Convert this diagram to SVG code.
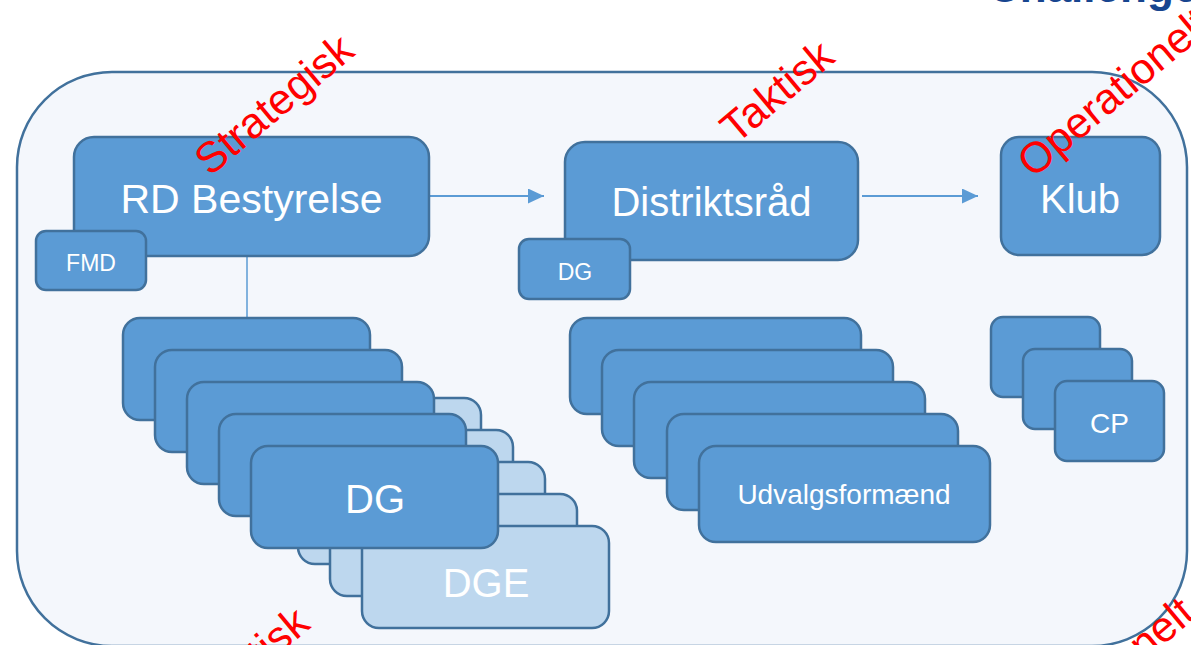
<svg xmlns="http://www.w3.org/2000/svg" width="1191" height="645" viewBox="0 0 1191 645">
<defs>
<style>
.bg{fill:#ffffff}
.frame{fill:#F4F7FC;stroke:#41719C;stroke-width:2.5}
.box{fill:#5B9BD5;stroke:#41719C;stroke-width:2.5}
.lbox{fill:#BDD7EE;stroke:#41719C;stroke-width:2.5}
.t{font-family:"Liberation Sans",Arial,sans-serif;fill:#ffffff;text-anchor:middle}
.red{font-family:"Liberation Sans",Arial,sans-serif;fill:#FF0000;font-size:43px}
.conn{stroke:#5B9BD5;stroke-width:2;fill:none}
.logo{font-family:"Liberation Sans",Arial,sans-serif;font-weight:bold;fill:#17458F;font-size:44px}
</style>
<marker id="arr" markerUnits="userSpaceOnUse" markerWidth="16" markerHeight="15" viewBox="0 0 16 15" refX="16" refY="7.5" orient="auto">
<path d="M0,0 L16,7.5 L0,15 z" fill="#5B9BD5"/>
</marker>
</defs>
<rect class="bg" x="0" y="0" width="1191" height="645"/>
<text class="logo" x="988" y="2">Challenge</text>
<rect class="frame" x="17" y="72" width="1170" height="574" rx="95" ry="95"/>

<g id="connectors">
<line class="conn" x1="429" y1="196" x2="544" y2="196" marker-end="url(#arr)"/>
<line class="conn" x1="862" y1="196" x2="978" y2="196" marker-end="url(#arr)"/>
<line class="conn" x1="247" y1="256" x2="247" y2="318" style="stroke-width:1.5"/>
</g>

<g id="node-rd">
<rect class="box" x="74" y="137" width="355" height="119" rx="20"/>
<text class="t" x="251.5" y="213" font-size="41">RD Bestyrelse</text>
</g>
<g id="node-fmd">
<rect class="box" x="36" y="231" width="110" height="59" rx="10"/>
<text class="t" x="91" y="271" font-size="23">FMD</text>
</g>
<g id="node-distriktsraad">
<rect class="box" x="565" y="142" width="293" height="118" rx="20"/>
<text class="t" x="711.5" y="216" font-size="40">Distriktsråd</text>
</g>
<g id="node-dg-small">
<rect class="box" x="519" y="239" width="111" height="60" rx="10"/>
<text class="t" x="575" y="280" font-size="23">DG</text>
</g>
<g id="node-klub">
<rect class="box" x="1001" y="137" width="159" height="118" rx="18"/>
<text class="t" x="1080" y="213" font-size="40">Klub</text>
</g>

<g id="node-dge-stack">
<rect class="lbox" x="234" y="398" width="247" height="102" rx="17"/>
<rect class="lbox" x="266" y="430" width="247" height="102" rx="17"/>
<rect class="lbox" x="298" y="462" width="247" height="102" rx="17"/>
<rect class="lbox" x="330" y="494" width="247" height="102" rx="17"/>
<rect class="lbox" x="362" y="526" width="247" height="102" rx="17"/>
<text class="t" x="486" y="597" font-size="40">DGE</text>
</g>
<g id="node-dg-stack">
<rect class="box" x="123" y="318" width="247" height="102" rx="17"/>
<rect class="box" x="155" y="350" width="247" height="102" rx="17"/>
<rect class="box" x="187" y="382" width="247" height="102" rx="17"/>
<rect class="box" x="219" y="414" width="247" height="102" rx="17"/>
<rect class="box" x="251" y="446" width="247" height="102" rx="17"/>
<text class="t" x="375" y="513" font-size="40">DG</text>
</g>

<g id="node-udvalg-stack">
<rect class="box" x="570" y="318" width="291" height="96" rx="17"/>
<rect class="box" x="602" y="350" width="291" height="96" rx="17"/>
<rect class="box" x="634" y="382" width="291" height="96" rx="17"/>
<rect class="box" x="667" y="414" width="291" height="96" rx="17"/>
<rect class="box" x="699" y="446" width="291" height="96" rx="17"/>
<text class="t" x="844" y="504" font-size="28">Udvalgsformænd</text>
</g>

<g id="node-cp-stack">
<rect class="box" x="991" y="317" width="109" height="80" rx="12"/>
<text class="t" x="1045.5" y="369" font-size="28">CP</text>
<rect class="box" x="1023" y="349" width="109" height="80" rx="12"/>
<text class="t" x="1077.5" y="401" font-size="28">CP</text>
<rect class="box" x="1055" y="381" width="109" height="80" rx="12"/>
<text class="t" x="1109.5" y="433" font-size="28">CP</text>
</g>

<g id="labels">
<text class="red" transform="translate(210,177) rotate(-40)">Strategisk</text>
<text class="red" transform="translate(736,145) rotate(-40)">Taktisk</text>
<text class="red" transform="translate(1033,179) rotate(-40)">Operationelt</text>
<text class="red" text-anchor="end" transform="translate(312,627) rotate(-40)">Politisk</text>
<text class="red" text-anchor="end" transform="translate(1197,617) rotate(-40)">Funktionelt</text>
</g>
</svg>
